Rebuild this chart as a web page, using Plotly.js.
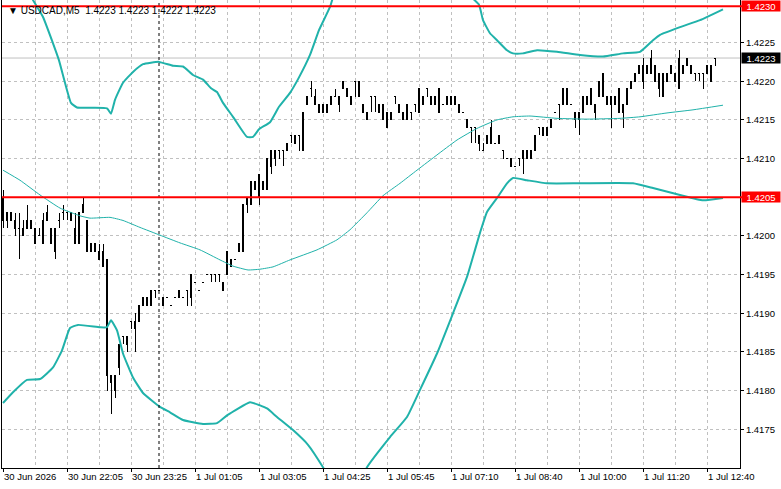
<!DOCTYPE html>
<html>
<head>
<meta charset="utf-8">
<script src="https://cdn.plot.ly/plotly-3.0.1.min.js"></script>
<style>
  html, body { margin: 0; padding: 0; background: #ffffff; }
  #chart { width: 781px; height: 489px; }
  #chart .boxlayer path { shape-rendering: crispEdges; }
</style>
</head>
<body>
<div id="chart"></div>
<script>
// ---- Chart data (USDCAD, M5) ----
const symbol = 'USDCAD,M5';

const opens = [
1.4205,1.4203,1.4203,1.4201,1.4201,1.4200,1.4202,1.4201,1.4201,1.4200,
1.4199,1.4203,1.4201,1.4198,1.4202,1.4203,1.4203,1.4202,1.4201,1.4199,
1.4204,1.4202,1.4199,1.4199,1.4197,1.4198,1.4197,1.4182,1.4180,1.4183,
1.4187,1.4186,1.4189,1.4188,1.4189,1.4192,1.4191,1.4191,1.4193,1.4193,
1.4192,1.4192,1.4191,1.4192,1.4192,1.4192,1.4193,1.4192,1.4194,1.4193,
1.4194,1.4195,1.4195,1.4195,1.4195,1.4193,1.4195,1.4197,1.4197,1.4198,
1.4198,1.4204,1.4204,1.4206,1.4208,1.4206,1.4206,1.4211,1.4210,1.4211,
1.4211,1.4211,1.4213,1.4212,1.4213,1.4211,1.4217,1.4219,1.4218,1.4216,
1.4216,1.4216,1.4218,1.4218,1.4217,1.4219,1.4219,1.4217,1.4220,1.4220,
1.4217,1.4215,1.4218,1.4218,1.4217,1.4217,1.4216,1.4215,1.4218,1.4217,
1.4215,1.4217,1.4216,1.4217,1.4216,1.4218,1.4219,1.4217,1.4217,1.4219,
1.4217,1.4218,1.4218,1.4218,1.4216,1.4216,1.4215,1.4214,1.4214,1.4213,
1.4211,1.4212,1.4214,1.4212,1.4213,1.4211,1.4210,1.4209,1.4209,1.4210,
1.4210,1.4210,1.4211,1.4211,1.4214,1.4213,1.4214,1.4214,1.4216,1.4217,
1.4219,1.4219,1.4217,1.4216,1.4215,1.4216,1.4217,1.4219,1.4216,1.4220,
1.4221,1.4217,1.4218,1.4218,1.4216,1.4217,1.4217,1.4220,1.4220,1.4222,
1.4220,1.4222,1.4223,1.4222,1.4221,1.4218,1.4220,1.4222,1.4220,1.4219,
1.4222,1.4222,1.4222,1.4221,1.4221,1.4221,1.4221,1.4220,1.4223];

const highs = [
1.4206,1.4203,1.4203,1.4203,1.4203,1.4202,1.4204,1.4202,1.4201,1.4201,
1.4203,1.4204,1.4201,1.4201,1.4203,1.4204,1.4203,1.4203,1.4203,1.4203,
1.4205,1.4202,1.4199,1.4199,1.4199,1.4199,1.4197,1.4182,1.4182,1.4186,
1.4187,1.4187,1.4189,1.4190,1.4191,1.4192,1.4192,1.4193,1.4193,1.4193,
1.4192,1.4192,1.4191,1.4192,1.4193,1.4192,1.4193,1.4195,1.4194,1.4193,
1.4194,1.4195,1.4195,1.4195,1.4195,1.4194,1.4198,1.4197,1.4197,1.4199,
1.4204,1.4205,1.4207,1.4207,1.4208,1.4207,1.4210,1.4211,1.4211,1.4211,
1.4211,1.4212,1.4213,1.4213,1.4213,1.4216,1.4218,1.4220,1.4219,1.4217,
1.4217,1.4217,1.4218,1.4219,1.4218,1.4220,1.4219,1.4218,1.4220,1.4220,
1.4217,1.4216,1.4218,1.4218,1.4217,1.4217,1.4216,1.4216,1.4218,1.4217,
1.4216,1.4217,1.4216,1.4217,1.4219,1.4218,1.4219,1.4218,1.4218,1.4219,
1.4217,1.4218,1.4218,1.4218,1.4217,1.4216,1.4215,1.4214,1.4214,1.4213,
1.4212,1.4213,1.4215,1.4212,1.4213,1.4211,1.4210,1.4210,1.4209,1.4210,
1.4211,1.4211,1.4211,1.4213,1.4214,1.4214,1.4214,1.4215,1.4216,1.4217,
1.4219,1.4219,1.4217,1.4216,1.4216,1.4218,1.4218,1.4219,1.4217,1.4220,
1.4221,1.4218,1.4218,1.4218,1.4219,1.4217,1.4219,1.4220,1.4221,1.4222,
1.4223,1.4222,1.4224,1.4222,1.4221,1.4221,1.4221,1.4222,1.4221,1.4224,
1.4222,1.4223,1.4222,1.4221,1.4221,1.4221,1.4222,1.4222,1.4223];

const lows = [
1.4201,1.4201,1.4202,1.4200,1.4197,1.4200,1.4201,1.4201,1.4199,1.4200,
1.4199,1.4202,1.4199,1.4197,1.4201,1.4202,1.4202,1.4202,1.4199,1.4199,
1.4203,1.4198,1.4198,1.4198,1.4197,1.4196,1.4180,1.4177,1.4179,1.4182,
1.4186,1.4185,1.4188,1.4185,1.4189,1.4191,1.4191,1.4191,1.4192,1.4193,
1.4191,1.4192,1.4191,1.4192,1.4192,1.4192,1.4191,1.4191,1.4194,1.4193,
1.4194,1.4195,1.4194,1.4194,1.4194,1.4193,1.4195,1.4196,1.4197,1.4198,
1.4198,1.4203,1.4204,1.4206,1.4204,1.4206,1.4206,1.4208,1.4209,1.4210,
1.4209,1.4211,1.4212,1.4212,1.4211,1.4211,1.4217,1.4218,1.4217,1.4216,
1.4216,1.4216,1.4217,1.4218,1.4216,1.4219,1.4218,1.4217,1.4218,1.4218,
1.4216,1.4215,1.4216,1.4216,1.4216,1.4215,1.4214,1.4215,1.4217,1.4216,
1.4215,1.4215,1.4215,1.4216,1.4216,1.4217,1.4218,1.4217,1.4217,1.4216,
1.4217,1.4217,1.4217,1.4217,1.4216,1.4216,1.4214,1.4212,1.4212,1.4211,
1.4211,1.4212,1.4212,1.4212,1.4212,1.4210,1.4210,1.4209,1.4209,1.4209,
1.4208,1.4210,1.4210,1.4211,1.4213,1.4213,1.4213,1.4214,1.4216,1.4215,
1.4217,1.4217,1.4217,1.4214,1.4213,1.4216,1.4217,1.4217,1.4215,1.4218,
1.4218,1.4217,1.4214,1.4217,1.4216,1.4214,1.4217,1.4219,1.4220,1.4221,
1.4219,1.4221,1.4221,1.4220,1.4218,1.4218,1.4220,1.4221,1.4220,1.4219,
1.4221,1.4222,1.4221,1.4220,1.4220,1.4219,1.4221,1.4220,1.4222];

const closes = [
1.4202,1.4202,1.4202,1.4202,1.4201,1.4201,1.4201,1.4202,1.4199,1.4200,
1.4202,1.4202,1.4199,1.4201,1.4202,1.4203,1.4203,1.4203,1.4199,1.4203,
1.4203,1.4198,1.4198,1.4198,1.4198,1.4196,1.4182,1.4181,1.4182,1.4186,
1.4187,1.4187,1.4189,1.4189,1.4191,1.4191,1.4192,1.4193,1.4193,1.4193,
1.4191,1.4192,1.4191,1.4192,1.4193,1.4192,1.4193,1.4195,1.4194,1.4193,
1.4194,1.4195,1.4195,1.4195,1.4195,1.4194,1.4198,1.4196,1.4197,1.4199,
1.4204,1.4205,1.4207,1.4207,1.4205,1.4207,1.4210,1.4209,1.4211,1.4211,
1.4211,1.4212,1.4213,1.4213,1.4213,1.4216,1.4218,1.4219,1.4217,1.4217,
1.4217,1.4217,1.4217,1.4218,1.4218,1.4220,1.4218,1.4218,1.4220,1.4218,
1.4216,1.4216,1.4218,1.4218,1.4216,1.4215,1.4214,1.4216,1.4218,1.4216,
1.4216,1.4215,1.4216,1.4217,1.4219,1.4217,1.4219,1.4218,1.4218,1.4216,
1.4217,1.4217,1.4217,1.4217,1.4217,1.4216,1.4214,1.4214,1.4214,1.4212,
1.4211,1.4213,1.4212,1.4212,1.4212,1.4211,1.4210,1.4210,1.4209,1.4210,
1.4211,1.4211,1.4210,1.4213,1.4214,1.4214,1.4213,1.4215,1.4216,1.4217,
1.4217,1.4217,1.4217,1.4215,1.4216,1.4218,1.4218,1.4217,1.4217,1.4218,
1.4218,1.4218,1.4217,1.4217,1.4219,1.4216,1.4219,1.4219,1.4221,1.4221,
1.4222,1.4221,1.4221,1.4220,1.4219,1.4221,1.4221,1.4221,1.4221,1.4223,
1.4221,1.4223,1.4221,1.4221,1.4221,1.4221,1.4222,1.4222,1.4223];

// Bollinger bands at bar positions
const upperX = [0,4,7.5,10,12.5,14,15.5,17,18.5,26,27,28,30,32.5,35,39,42.5,45,47.5,50,52,53.5,55,57.5,61,62.5,64,66.75,69,71.75,74,76.75,79,81.75,85.5,91,99,108.5,116,119,120,121.75,123.5,126,127.5,130,133.5,138.5,144.25,150,155,159.25,162.5,164.25,169.25,174.25,180];
const upperY = [1.42386,1.42340,1.42305,1.42283,1.42249,1.42227,1.42198,1.42172,1.42166,1.42165,1.42158,1.42176,1.42198,1.42212,1.42222,1.42225,1.42220,1.42219,1.42208,1.42202,1.42191,1.42186,1.42172,1.42154,1.42128,1.42128,1.42138,1.42147,1.42167,1.42185,1.42205,1.42234,1.42266,1.42296,1.42354,1.42358,1.42381,1.42361,1.42314,1.42299,1.42279,1.42262,1.42253,1.42240,1.42236,1.42236,1.42240,1.42238,1.42234,1.42232,1.42236,1.42238,1.42253,1.42260,1.42270,1.42279,1.42293];
const midX = [0,4.25,9.25,14.25,19.25,21.75,26.75,30,34.25,39.25,44.25,49.25,54.25,57.5,61.25,64.25,67.5,71.75,78.5,83.5,86.75,91,95,99.25,103.5,113.5,118.5,123.5,127.5,131.75,138.5,146,154.25,159.25,166,172.5,180];
const midY = [1.42085,1.42072,1.42053,1.42036,1.42026,1.42023,1.42024,1.42020,1.42011,1.42001,1.41991,1.41982,1.41969,1.41961,1.41956,1.41957,1.41960,1.41969,1.41982,1.41995,1.42008,1.42030,1.42052,1.42068,1.42085,1.42124,1.42139,1.42150,1.42154,1.42155,1.42152,1.42151,1.42152,1.42154,1.42159,1.42163,1.42169];
const lowerX = [0,2.5,6,9.25,12.5,14.75,16.75,18.75,24.25,26,27,28.5,30,32.5,35,39.25,41.75,45,50,53.5,56,61.75,64.25,66,68.5,72.5,76.25,80,82,85.5,89,91,96.75,101,104.25,108.5,112.5,116,119.25,121,123.5,126,127.5,131,136,144.25,157.5,162.5,169.25,175,180];
const lowerY = [1.41784,1.41798,1.41814,1.41815,1.41830,1.41852,1.41881,1.41885,1.41882,1.41882,1.41891,1.41878,1.41848,1.41817,1.41797,1.41779,1.41772,1.41762,1.41757,1.41758,1.41768,1.41785,1.41781,1.41777,1.41766,1.41749,1.41730,1.41701,1.41683,1.41667,1.41678,1.41701,1.41740,1.41766,1.41801,1.41848,1.41900,1.41947,1.42004,1.42031,1.42049,1.42068,1.42075,1.42072,1.42068,1.42068,1.42068,1.42062,1.42053,1.42046,1.42049];

// Time axis labels
const tickIdx = [0,16,32,48,64,80,96,112,128,144,160,176];
const tickText = ['30 Jun 2026','30 Jun 22:05','30 Jun 23:25','1 Jul 01:05','1 Jul 03:05','1 Jul 04:25','1 Jul 05:45','1 Jul 07:10','1 Jul 08:40','1 Jul 10:00','1 Jul 11:20','1 Jul 12:40'];

// Price axis labels
const priceTicks = [1.4175,1.4180,1.4185,1.4190,1.4195,1.4200,1.4205,1.4210,1.4215,1.4220,1.4225];

// Horizontal levels
const redLevels = [1.42297, 1.4205];
const redLabels = ['1.4230', '1.4205'];
const bidLevel = 1.4223;
const bidLabel = '1.4223';
const separatorIdx = 39;

// ---- Build ----
const barIdx = opens.map((_, i) => i);
const n = opens.length;
const headerText = '\u25BC ' + symbol + '\u00A0\u00A0' +
  [opens[n-1], highs[n-1], lows[n-1], closes[n-1]].map(v => v.toFixed(4)).join(' ');

const FONT = 'Liberation Sans, Arial, sans-serif';
const TEAL = '#20B2AA';
const GRID = '#C0C0C0';

const traces = [
  {
    type: 'candlestick', x: barIdx, open: opens, high: highs, low: lows, close: closes,
    increasing: { line: { color: '#000000', width: 1 }, fillcolor: '#FFFFFF' },
    decreasing: { line: { color: '#000000', width: 1 }, fillcolor: '#000000' },
    whiskerwidth: 0, hoverinfo: 'skip', showlegend: false
  },
  { type: 'scatter', mode: 'lines', x: midX, y: midY,
    line: { color: TEAL, width: 1, shape: 'spline', smoothing: 0.4 }, hoverinfo: 'skip', showlegend: false },
  { type: 'scatter', mode: 'lines', x: upperX, y: upperY,
    line: { color: TEAL, width: 2, shape: 'spline', smoothing: 0.4 }, hoverinfo: 'skip', showlegend: false },
  { type: 'scatter', mode: 'lines', x: lowerX, y: lowerY,
    line: { color: TEAL, width: 2, shape: 'spline', smoothing: 0.4 }, hoverinfo: 'skip', showlegend: false }
];

const shapes = [];
shapes.push({ type: 'line', xref: 'x', yref: 'paper', x0: separatorIdx, x1: separatorIdx, y0: 0, y1: 1,
  line: { color: '#000000', width: 1, dash: '3px,3px' }, layer: 'above' });
shapes.push({ type: 'line', xref: 'paper', yref: 'y', x0: 0, x1: 1, y0: bidLevel, y1: bidLevel,
  line: { color: GRID, width: 1 }, layer: 'below' });
redLevels.forEach(lv => shapes.push({ type: 'line', xref: 'paper', yref: 'y', x0: 0, x1: 1.003, y0: lv, y1: lv,
  line: { color: '#FF0000', width: 2 }, layer: 'above' }));

const annotations = [];
annotations.push({ xref: 'paper', yref: 'paper', x: 0, y: 1, xanchor: 'left', yanchor: 'top',
  xshift: 4, yshift: -3, text: headerText, showarrow: false,
  font: { family: FONT, size: 10, color: '#000000' } });
redLevels.forEach((lv, i) => annotations.push({ xref: 'paper', yref: 'y', x: 1, y: lv,
  xanchor: 'left', yanchor: 'middle', xshift: 1, text: redLabels[i], showarrow: false,
  bgcolor: '#FF0000', width: 38, height: 10, borderpad: 0, align: 'center',
  font: { family: FONT, size: 9.5, color: '#FFFFFF' } }));
annotations.push({ xref: 'paper', yref: 'y', x: 1, y: bidLevel,
  xanchor: 'left', yanchor: 'middle', xshift: 1, text: bidLabel, showarrow: false,
  bgcolor: '#000000', width: 38, height: 10, borderpad: 0, align: 'center',
  font: { family: FONT, size: 9.5, color: '#FFFFFF' } });

const layout = {
  width: 781, height: 489,
  margin: { l: 2, r: 41, t: 0, b: 21, pad: 0 },
  paper_bgcolor: '#FFFFFF', plot_bgcolor: '#FFFFFF',
  showlegend: false, hovermode: false, dragmode: false,
  boxgap: 0.4,
  font: { family: FONT, size: 9, color: '#000000' },
  xaxis: {
    type: 'linear', range: [-0.25, 184.25], fixedrange: true,
    rangeslider: { visible: false },
    tickmode: 'array', tickvals: tickIdx, ticktext: tickText,
    ticklabelposition: 'outside right',
    ticks: 'outside', ticklen: 3, tickcolor: '#000000', tickwidth: 1,
    tickfont: { family: FONT, size: 9.5, color: '#000000' },
    showgrid: true, gridcolor: GRID, gridwidth: 1, griddash: '3px,3px',
    minor: { tickmode: 'linear', tick0: 0, dtick: 8, showgrid: true, gridcolor: GRID, gridwidth: 1, griddash: '3px,3px', ticks: '' },
    showline: true, linecolor: '#000000', linewidth: 1, mirror: false,
    zeroline: false
  },
  yaxis: {
    side: 'right', range: [1.4170, 1.42305], fixedrange: true,
    tickmode: 'array', tickvals: priceTicks, ticktext: priceTicks.map(v => v.toFixed(4)),
    ticks: 'outside', ticklen: 3, tickcolor: '#000000', tickwidth: 1,
    tickfont: { family: FONT, size: 9.5, color: '#000000' },
    showgrid: true, gridcolor: GRID, gridwidth: 1, griddash: '3px,3px',
    showline: true, linecolor: '#000000', linewidth: 1, mirror: true,
    zeroline: false
  },
  shapes: shapes,
  annotations: annotations
};

Plotly.newPlot('chart', traces, layout, { displayModeBar: false, staticPlot: true });
</script>
</body>
</html>
